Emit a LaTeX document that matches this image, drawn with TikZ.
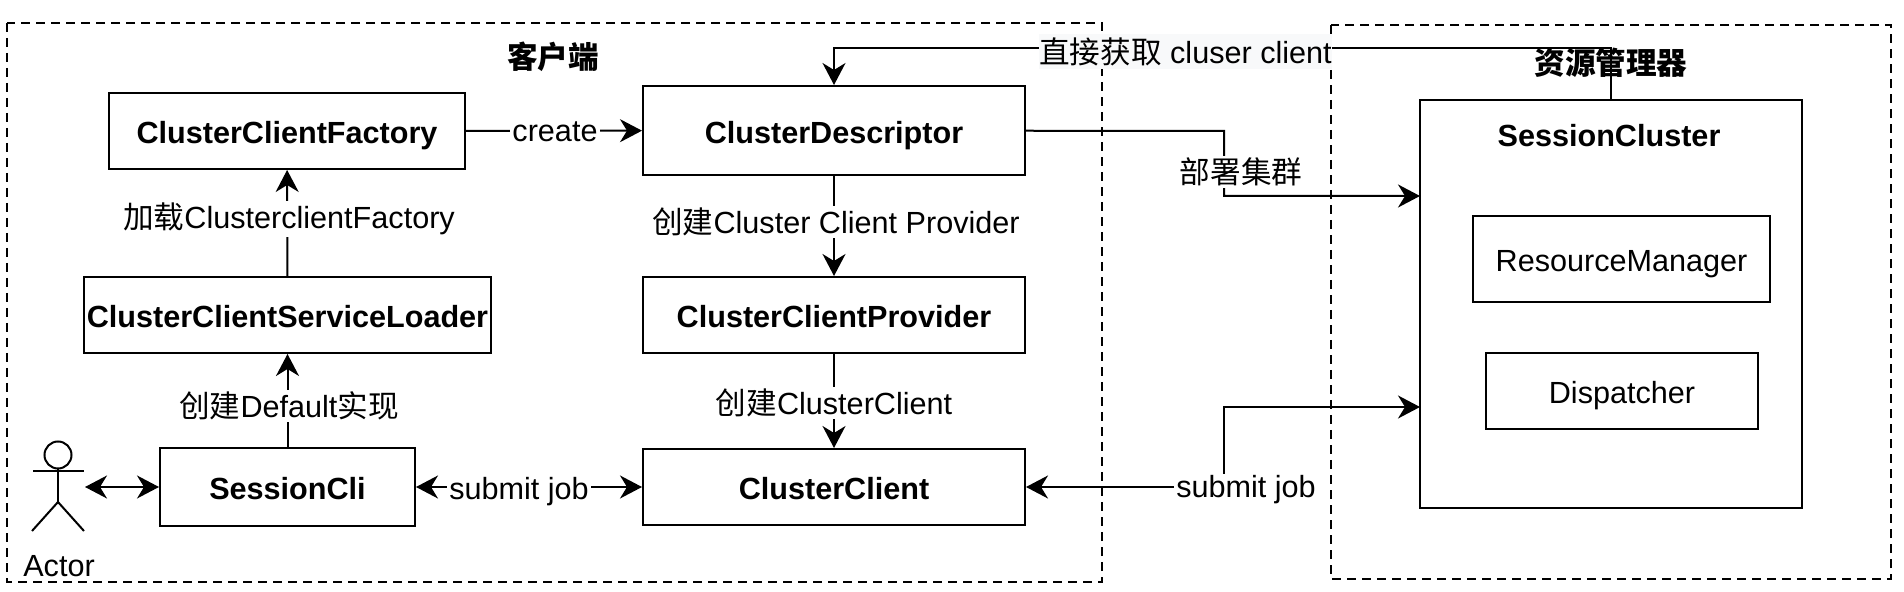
\documentclass[tikz,border=0pt]{standalone}
\usepackage{fontspec}
\setmainfont{Liberation Sans}
\newfontfamily\cjkfont{Noto Sans CJK SC}
\newcommand{\zh}[1]{{\cjkfont #1}}
\usetikzlibrary{arrows.meta}
\definecolor{labelbg}{HTML}{F8F9FA}
\tikzset{
  box/.style={draw,line width=1pt,inner sep=0pt,align=center,text height=15pt,text depth=2pt,font=\fontsize{15.3}{17}\selectfont\bfseries},
  plainbox/.style={box,text height=15pt,text depth=2pt,font=\fontsize{15.3}{17}\selectfont},
  zone/.style={draw,line width=0.9pt,dash pattern=on 4.5pt off 3pt},
  link/.style={draw,line width=1pt,-{Stealth[length=11pt,width=11.5pt,inset=3.5pt]}},
  twolink/.style={draw,line width=1pt,{Stealth[length=11pt,width=11.5pt,inset=3.5pt]}-{Stealth[length=11pt,width=11.5pt,inset=3.5pt]}},
  lab/.style={fill=white,inner sep=1pt,font=\fontsize{15.3}{17}\selectfont},
  title/.style={inner sep=0pt,font=\fontsize{15.3}{17}\selectfont\bfseries}
}
\begin{document}
\begin{tikzpicture}[x=0.5pt,y=0.5pt,yscale=-1,xscale=1]
\useasboundingbox (0,0) rectangle (1904,592);
% dashed zones
\draw[zone] (7,23) rectangle (1102,582);
\draw[zone] (1331,25) rectangle (1891,579);
% boxes
\node[box,minimum width=178pt,minimum height=38pt] (ClusterClientFactory) at (287,131) {ClusterClientFactory};
\node[box,minimum width=191pt,minimum height=44.5pt] (ClusterDescriptor) at (834,130.5) {ClusterDescriptor};
\node[box,minimum width=203.5pt,minimum height=38pt] (ClusterClientServiceLoader) at (287.5,315) {ClusterClientServiceLoader};
\node[box,minimum width=191pt,minimum height=38pt] (ClusterClientProvider) at (834,315) {ClusterClientProvider};
\node[box,minimum width=127.5pt,minimum height=38.5pt] (SessionCli) at (287.5,487) {SessionCli};
\node[box,minimum width=191pt,minimum height=38pt] (ClusterClient) at (834,487) {ClusterClient};
\node[box,minimum width=191pt,minimum height=204pt] (SessionCluster) at (1611,304) {};
\node[plainbox,minimum width=148.5pt,minimum height=43pt] (ResourceManager) at (1621.5,259) {ResourceManager};
\node[plainbox,minimum width=136pt,minimum height=38pt] (Dispatcher) at (1622,391) {Dispatcher};
% actor
\node[draw,circle,line width=1pt,minimum size=13.5pt,inner sep=0pt] (ActorHead) at (58,455) {};
\coordinate (ActorArmL) at (33,471);
\coordinate (ActorArmR) at (84,471);
\coordinate (ActorHip) at (58,502);
\coordinate (ActorFootL) at (32,531);
\coordinate (ActorFootR) at (84,531);
\coordinate (ActorHand) at (85,487);
\draw[line width=1pt] (ActorHead.south) -- (ActorHip);
\draw[line width=1pt] (ActorArmL) -- (ActorArmR);
\draw[line width=1pt] (ActorFootL) -- (ActorHip) -- (ActorFootR);
% connectors
\coordinate (DeployBendA) at (1224,131);
\coordinate (DeployBendB) at (1224,196);
\coordinate (DeployIn) at (1420,196);
\coordinate (FetchBendA) at (1611,48);
\coordinate (FetchBendB) at (834,48);
\coordinate (SubmitBendA) at (1224,487);
\coordinate (SubmitBendB) at (1224,407);
\coordinate (SubmitIn) at (1420,407);
\draw[link] (ClusterClientFactory) -- (ClusterDescriptor);
\draw[link] (ClusterDescriptor) -- (ClusterClientProvider);
\draw[link] (ClusterClientProvider) -- (ClusterClient);
\draw[link] (SessionCli) -- (ClusterClientServiceLoader);
\draw[link] (ClusterClientServiceLoader) -- (ClusterClientFactory);
\draw[twolink] (ActorHand) -- (SessionCli);
\draw[twolink] (SessionCli) -- (ClusterClient);
\draw[link] (ClusterDescriptor) -- (DeployBendA) -- (DeployBendB) -- (DeployIn);
\draw[link] (SessionCluster.north) -- (FetchBendA) -- (FetchBendB) -- (ClusterDescriptor.north);
\draw[twolink] (ClusterClient.east) -- (SubmitBendA) -- (SubmitBendB) -- (SubmitIn);
% Text Node
\node[title] (ClientTitle) at (553,57) {\zh{客户端}};
\node[title] (ManagerTitle) at (1611,63) {\zh{资源管理器}};
\node[title] (SessionClusterTitle) at (1609,136) {SessionCluster};
\node[lab] (CreateLabel) at (555,132) {create};
\node[lab] (LoadLabel) at (289,219) {\zh{加载}ClusterclientFactory};
\node[lab] (DefaultLabel) at (289,406) {\zh{创建}Default\zh{实现}};
\node[lab] (ProviderLabel) at (836,222) {\zh{创建}Cluster Client Provider};
\node[lab] (ClientLabel) at (834,403) {\zh{创建}ClusterClient};
\node[lab] (SubmitLeft) at (519,492) {submit job};
\node[lab] (SubmitRight) at (1246,490) {submit job};
\node[lab] (DeployLabel) at (1241,172) {\zh{部署集群}};
\node[lab,fill=labelbg,minimum width=145.5pt,minimum height=17.5pt,inner sep=0pt] (FetchLabel) at (1185.5,52) {\zh{直接获取} cluser client};
\node[lab] (ActorLabel) at (59,566) {Actor};
\end{tikzpicture}
\end{document}
